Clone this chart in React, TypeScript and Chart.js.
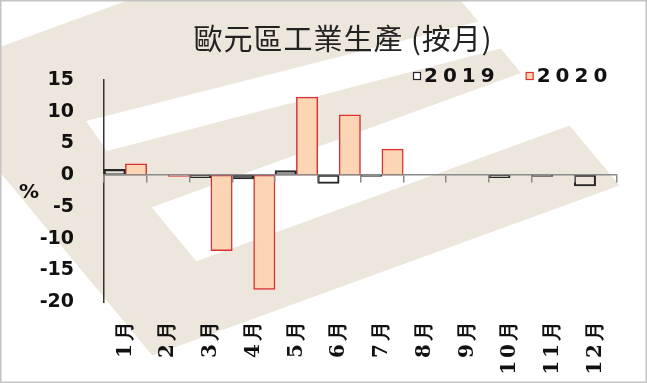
import React, { useEffect, useRef } from 'react';
import { Chart, registerables } from 'chart.js';

Chart.register(...registerables);

// ---- data ----
const months = ['1月', '2月', '3月', '4月', '5月', '6月', '7月', '8月', '9月', '10月', '11月', '12月'];
const seriesNames = ['2019', '2020'];
const values2019: (number | null)[] = [0.9, null, -0.4, -0.6, 0.7, -1.3, -0.2, null, null, -0.4, -0.2, -1.7];
const values2020: (number | null)[] = [1.8, -0.2, -11.9, -18.0, 12.3, 9.5, 4.1, null, null, null, null, null];
const yMin = -20;
const yMax = 15;
const yStep = 5;
const titleText = '歐元區工業生產 (按月)';
const unitText = '%';

// ---- styles ----
const BEIGE = 'rgb(237,230,220)';
const PEACH = 'rgb(252,213,181)';
const RED = 'rgb(218,48,48)';
const DARK = '#262626';

const decorPlugin = {
  id: 'decor',
  beforeDraw(chart: any) {
    const { ctx, width, height } = chart;
    (ctx as any).letterSpacing = '0px';
    ctx.save();
    ctx.fillStyle = '#ffffff';
    ctx.fillRect(0, 0, width, height);
    // watermark logo (sheared "E" shape)
    ctx.save();
    ctx.transform(0.94, -0.342, 0.64, 0.77, -80, 76);
    ctx.fillStyle = BEIGE;
    const parts = [
      [0, 0, 493, 215],
      [0, 0, 100, 363],
      [0, 285, 497, 78],
    ];
    ctx.beginPath();
    parts.forEach((r) => ctx.rect(r[0], r[1], r[2], r[3]));
    ctx.fill();
    ctx.restore();
    // upper white gap of the logo
    ctx.fillStyle = '#ffffff';
    ctx.beginPath();
    ctx.moveTo(86, 121);
    ctx.lineTo(575, -3);
    ctx.lineTo(610, 20);
    ctx.lineTo(107, 151);
    ctx.closePath();
    ctx.fill();
    ctx.restore();
  },
  afterDatasetsDraw(chart: any) {
    // month labels (drawn after datasets, z > 0) use wider letter spacing
    (chart.ctx as any).letterSpacing = '3px';
  },
  afterDraw(chart: any) {
    const { ctx, width, height } = chart;
    (ctx as any).letterSpacing = '0px';
    ctx.save();
    // title
    ctx.fillStyle = '#222';
    ctx.font = '29px "Noto Sans CJK TC", "Noto Sans CJK SC", sans-serif';
    (ctx as any).letterSpacing = '1px';
    ctx.textAlign = 'center';
    ctx.textBaseline = 'middle';
    ctx.fillText(titleText, 343, 39);

    // legend
    ctx.font = 'bold 20px "DejaVu Sans", sans-serif';
    (ctx as any).letterSpacing = '5px';
    ctx.textAlign = 'left';
    let x = 413;
    chart.data.datasets.forEach((ds: any) => {
      ctx.fillStyle = ds.legendFill;
      ctx.fillRect(x, 72, 8, 8);
      ctx.strokeStyle = ds.borderColor;
      ctx.lineWidth = 1.2;
      ctx.strokeRect(x + 0.5, 72.5, 7, 7);
      ctx.fillStyle = '#111';
      ctx.fillText(ds.label, x + 11, 77);
      x += 11 + ctx.measureText(ds.label).width + 26;
    });

    // unit label
    (ctx as any).letterSpacing = '0px';
    ctx.font = 'bold 20px "DejaVu Sans", sans-serif';
    ctx.textAlign = 'center';
    ctx.fillStyle = '#111';
    ctx.fillText(unitText, 29, 193);

    // outer frame
    ctx.strokeStyle = '#c4c4c4';
    ctx.lineWidth = 1.5;
    ctx.strokeRect(0.75, 0.75, width - 1.5, height - 1.5);
    ctx.restore();
  },
};

export default function App() {
  const canvasRef = useRef<HTMLCanvasElement | null>(null);

  useEffect(() => {
    const canvas = canvasRef.current;
    if (!canvas) return;
    const chart = new Chart(canvas, {
      type: 'bar',
      data: {
        labels: months,
        datasets: [
          {
            label: seriesNames[0],
            data: values2019,
            backgroundColor: 'rgba(255,255,255,0)',
            borderColor: DARK,
            borderWidth: 1.4,
            borderSkipped: false,
            categoryPercentage: 1,
            barPercentage: 1,
            legendFill: '#ffffff',
          } as any,
          {
            label: seriesNames[1],
            data: values2020,
            backgroundColor: PEACH,
            borderColor: RED,
            borderWidth: 1.5,
            borderSkipped: false,
            categoryPercentage: 1,
            barPercentage: 1,
            legendFill: PEACH,
          } as any,
        ],
      },
      options: {
        responsive: false,
        animation: false,
        devicePixelRatio: 1,
        layout: { padding: { left: 0, right: 30, top: 80, bottom: 0 } },
        plugins: {
          legend: { display: false },
          title: { display: false },
          tooltip: { enabled: false },
        },
        scales: {
          x: {
            type: 'category',
            position: { y: 0 } as any,
            grid: {
              display: true,
              drawOnChartArea: false,
              drawTicks: true,
              tickLength: 7,
              color: '#8a8a8a',
              lineWidth: 1.5,
              offset: true,
              z: 1,
            },
            border: { display: true, color: '#8a8a8a', width: 1.5, z: 1 },
            ticks: { display: false },
          } as any,
          x2: {
            type: 'category',
            labels: months,
            position: 'bottom',
            offset: true,
            grid: { display: false },
            border: { display: false },
            ticks: {
              z: 2,
              minRotation: 90,
              maxRotation: 90,
              autoSkip: false,
              padding: 8,
              color: '#111',
              font: { family: '"DejaVu Serif", serif', size: 20, weight: 'bold' },
            },
            afterFit: (s: any) => {
              s.height = 81;
            },
          } as any,
          y: {
            min: yMin,
            max: yMax,
            ticks: {
              stepSize: yStep,
              padding: 22,
              color: '#111',
              font: { family: '"DejaVu Sans", sans-serif', size: 19, weight: 'bold' },
            },
            grid: { display: false },
            border: { display: true, color: '#333', width: 1.5 },
            afterFit: (s: any) => {
              s.width = 104;
            },
          },
        },
      } as any,
      plugins: [decorPlugin],
    });
    return () => chart.destroy();
  }, []);

  return (
    <div style={{ position: 'absolute', left: 0, top: 0, width: 647, height: 383 }}>
      <canvas ref={canvasRef} width={647} height={383} style={{ display: 'block' }} />
    </div>
  );
}
